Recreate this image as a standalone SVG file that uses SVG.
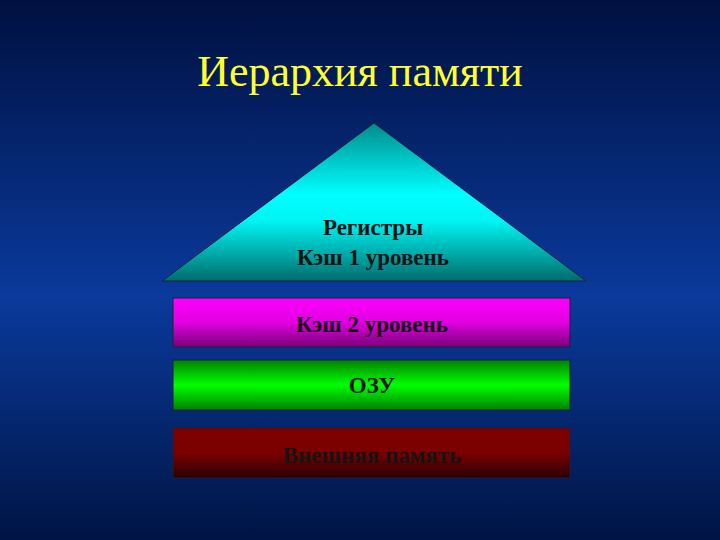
<svg xmlns="http://www.w3.org/2000/svg" width="720" height="540" viewBox="0 0 720 540">
  <defs>
    <linearGradient id="bg" x1="0" y1="0" x2="0" y2="1">
      <stop offset="0" stop-color="#001040"/>
      <stop offset="0.55" stop-color="#0a3a9c"/>
      <stop offset="1" stop-color="#001444"/>
    </linearGradient>
    <linearGradient id="gTri" x1="0" y1="0" x2="0" y2="1">
      <stop offset="0" stop-color="#008a8a"/>
      <stop offset="0.45" stop-color="#00ffff"/>
      <stop offset="0.62" stop-color="#00f4f4"/>
      <stop offset="1" stop-color="#006c6c"/>
    </linearGradient>
    <linearGradient id="gMag" x1="0" y1="0" x2="0" y2="1">
      <stop offset="0" stop-color="#ff00ff"/>
      <stop offset="0.5" stop-color="#e000e0"/>
      <stop offset="1" stop-color="#780078"/>
    </linearGradient>
    <linearGradient id="gGrn" x1="0" y1="0" x2="0" y2="1">
      <stop offset="0" stop-color="#008000"/>
      <stop offset="0.5" stop-color="#00ff00"/>
      <stop offset="1" stop-color="#008000"/>
    </linearGradient>
    <linearGradient id="gRed" x1="0" y1="0" x2="0" y2="1">
      <stop offset="0" stop-color="#800000"/>
      <stop offset="0.5" stop-color="#7a0000"/>
      <stop offset="1" stop-color="#2a0000"/>
    </linearGradient>
  </defs>
  <style>
    .title { font-family: "Liberation Serif", "Times New Roman", serif; font-size: 44px; fill: #ffff33; text-anchor: middle; }
    .lbl { font-family: "Liberation Serif", "Times New Roman", serif; font-size: 23px; font-weight: bold; fill: #141414; text-anchor: middle; }
    .shape { stroke: #1a2040; stroke-width: 1; }
  </style>
  <rect x="0" y="0" width="720" height="540" fill="url(#bg)"/>
  <text class="title" x="360" y="86">Иерархия памяти</text>
  <g id="connectors"></g>
  <g id="registers">
    <polygon class="shape" points="374,123 586,281 162,281" fill="url(#gTri)"/>
    <text class="lbl" x="373" y="235">Регистры</text>
    <text class="lbl" x="373" y="265">Кэш 1 уровень</text>
  </g>
  <g id="cache2">
    <rect class="shape" x="173" y="298" width="397" height="49" fill="url(#gMag)"/>
    <text class="lbl" x="372" y="332">Кэш 2 уровень</text>
  </g>
  <g id="ram">
    <rect class="shape" x="173" y="360" width="397" height="50" fill="url(#gGrn)"/>
    <text class="lbl" x="372" y="393">ОЗУ</text>
  </g>
  <g id="external">
    <rect class="shape" x="173" y="428" width="397" height="50" fill="url(#gRed)"/>
    <text class="lbl" x="372" y="463" fill="#1a0000">Внешняя память</text>
  </g>
</svg>
